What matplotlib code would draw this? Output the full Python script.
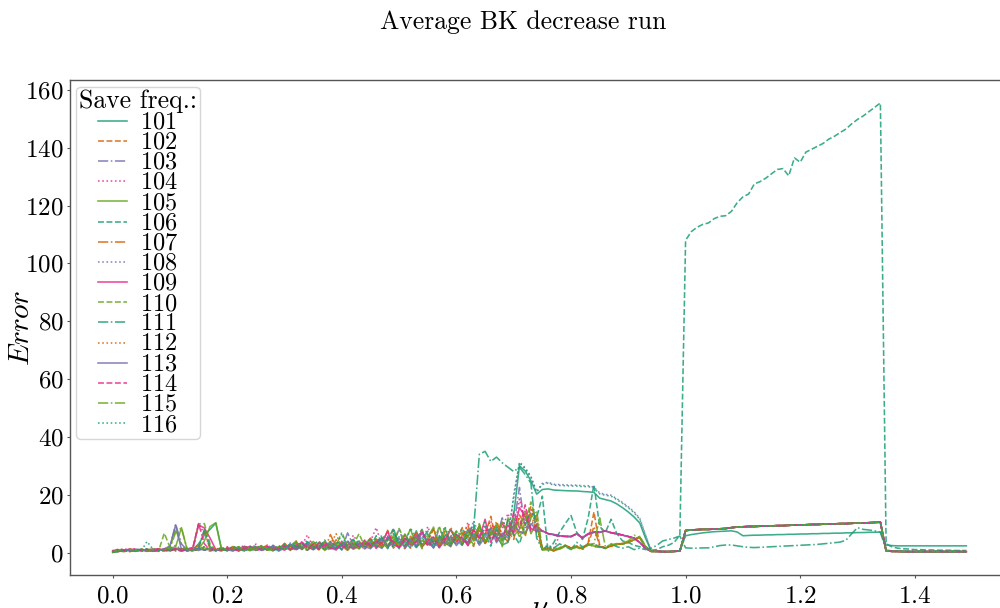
import numpy as np
import matplotlib
matplotlib.use('Agg')
import matplotlib.pyplot as plt

plt.rcParams.update({
    'font.family': 'serif',
    'font.serif': ['cmr10'],
    'mathtext.fontset': 'cm',
    'axes.unicode_minus': False,
    'axes.formatter.use_mathtext': True,
})

# x grid (nu)
nu = np.round(np.arange(150) * 0.01, 2)
labels = [str(v) for v in range(101, 117)]

# shared segments
pregap = [0.4, 0.3, 0.3, 0.4, 0.5]                       # 0.95-0.99
plateau = [7.6, 7.8, 7.9, 8.0, 8.0, 8.1, 8.2, 8.3, 8.6, 8.8,
           8.9, 9.0, 9.0, 9.1, 9.1, 9.2, 9.3, 9.3, 9.4, 9.5,
           9.5, 9.6, 9.7, 9.7, 9.8, 9.8, 9.9, 10.0, 10.0, 10.1,
           10.2, 10.2, 10.3, 10.4, 10.5]                  # 1.00-1.34
tail_low = [0.6, 0.4, 0.4, 0.3, 0.3, 0.3, 0.3, 0.3, 0.3, 0.3,
            0.3, 0.3, 0.3, 0.3, 0.3]                      # 1.35-1.49
mid_pp = [7.5, 6.5, 6.2, 5.8, 5.6, 5.5, 6.5, 5.0, 6.5, 7.0,
          7.0, 7.5, 6.8, 6.5, 6.0, 5.5, 5.0, 3.5, 1.5, 0.4]  # 0.75-0.94
upper_mid = [23.6, 24.0, 23.3, 23.2, 23.1, 23.0, 23.0, 22.8, 22.8, 22.3,
             20.3, 19.8, 19.5, 18.3, 17.0, 15.5, 13.8, 11.5, 6.0, 0.5]
common_tail = pregap + plateau + tail_low

s101 = [0.0, 0.6, 0.4, 0.9, 0.5, 1.1, 0.7, 0.8, 1.2, 0.6, 0.9, 1.5, 1.2, 0.8, 1.0,
        3.0, 6.0, 8.0, 10.2, 1.2, 0.6, 1.4, 0.8, 1.9, 0.7, 1.3, 2.1, 0.9, 1.6, 0.5,
        1.8, 2.6, 1.1, 3.2, 0.8, 2.4, 1.5, 3.6, 1.2, 2.8, 0.9, 3.9, 2.2, 1.4, 4.1,
        1.6, 3.3, 5.2, 2.1, 4.4, 1.3, 6.2, 3.0, 7.5, 2.2, 4.8, 1.5, 5.6, 3.4, 2.0,
        6.4, 2.8, 8.1, 4.0, 9.5, 3.2, 7.0, 5.5, 2.6, 3.5, 13.0, 30.0, 28.2, 24.8, 20.2,
        21.8, 22.0, 21.6, 21.5, 21.4, 21.3, 21.3, 21.1, 21.0, 20.8,
        18.8, 18.3, 17.8, 16.8, 15.5, 14.0, 12.3, 10.2, 5.0, 0.5,
        0.4, 0.3, 0.3, 0.4, 0.5,
        5.8, 6.2, 6.5, 6.8, 7.0, 7.2, 7.3, 7.4, 7.5, 7.1,
        5.8, 5.9, 6.0, 6.0, 6.1, 6.1, 6.2, 6.2, 6.3, 6.3,
        6.4, 6.4, 6.5, 6.5, 6.6, 6.6, 6.7, 6.7, 6.8, 6.8,
        6.9, 6.9, 7.0, 7.0, 7.1,
        2.6, 2.4, 2.3, 2.3, 2.3, 2.3, 2.3, 2.3, 2.3, 2.3, 2.3, 2.3, 2.3, 2.3, 2.3]

s102 = [0.4, 1.2, 0.6, 0.3, 0.9, 0.5, 1.1, 0.7, 0.4, 1.0, 0.6, 1.3, 0.8, 0.5, 1.2,
        2.5, 0.9, 0.5, 1.1, 1.6, 0.7, 2.1, 1.3, 0.5, 1.8, 0.9, 1.4, 2.6, 0.8, 1.5,
        1.1, 2.7, 0.6, 3.1, 1.8, 2.3, 0.9, 3.6, 1.5, 4.4, 2.1, 0.8, 3.7, 1.6, 2.9,
        5.0, 1.9, 3.4, 2.2, 8.0, 3.0, 1.3, 4.6, 6.8, 2.5, 3.9, 8.1, 2.0, 7.3, 4.0,
        3.3, 8.6, 4.7, 2.1, 9.0, 6.0, 12.5, 3.8, 10.5, 7.2, 4.5, 13.0, 9.6, 16.0, 11.0,
        1.0, 1.2, 0.6, 1.4, 2.4, 1.6, 2.1, 1.3, 3.4, 14.0,
        2.5, 1.4, 2.2, 2.8, 3.2, 3.6, 4.6, 5.3, 2.0, 0.4] + common_tail

s103 = [0.2, 0.8, 1.1, 0.6, 0.9, 0.4, 0.8, 1.2, 0.5, 1.0, 2.0, 9.8, 3.0, 0.8, 1.0,
        0.7, 1.5, 0.9, 0.6, 1.3, 0.8, 1.7, 1.1, 2.2, 0.6, 1.5, 1.0, 1.9, 2.5, 1.2,
        2.0, 0.8, 2.8, 1.5, 3.4, 0.9, 2.2, 4.0, 1.7, 2.9, 1.0, 6.8, 2.4, 3.3, 1.2,
        3.8, 2.6, 1.4, 5.5, 3.1, 8.2, 2.0, 4.4, 1.6, 5.9, 3.5, 2.3, 8.5, 4.1, 2.7,
        5.6, 3.2, 7.9, 4.6, 6.1, 3.4, 8.4, 5.0, 12.0, 6.3, 9.1, 22.5, 8.0, 11.5, 8.5
        ] + mid_pp + common_tail

s104 = [0.5, 0.9, 1.3, 0.7, 1.1, 0.6, 1.4, 0.8, 1.0, 0.5, 0.9, 1.2, 0.7, 1.0, 1.3,
        10.0, 6.5, 1.8, 0.8, 1.2, 2.0, 0.7, 1.6, 2.4, 1.0, 2.9, 1.3, 0.8, 2.0, 1.4,
        2.6, 1.3, 0.9, 2.4, 6.1, 1.6, 3.0, 2.1, 0.8, 3.5, 2.3, 1.4, 6.0, 2.8, 1.1,
        3.9, 8.6, 2.3, 4.5, 1.8, 3.3, 5.8, 2.4, 4.9, 2.9, 9.0, 3.6, 5.1, 2.2, 4.3,
        6.6, 3.9, 10.5, 5.4, 2.7, 7.5, 11.0, 4.9, 8.5, 13.5, 7.0, 18.5, 10.0, 15.0, 9.0,
        2.0, 2.2, 1.5, 5.8, 5.6, 5.5, 6.5, 5.0, 6.5, 7.0,
        7.0, 7.5, 6.8, 6.5, 6.0, 5.5, 5.0, 3.5, 1.5, 0.4] + common_tail

s105 = [0.1, 0.4, 0.7, 0.9, 0.5, 1.0, 0.6, 0.8, 1.1, 0.7, 1.5, 2.0, 8.6, 0.9, 0.6,
        1.2, 4.0, 9.0, 10.3, 1.0, 1.4, 0.6, 1.9, 1.1, 0.8, 1.6, 2.2, 1.0, 0.7, 1.8,
        1.4, 2.3, 3.9, 1.0, 2.6, 1.7, 3.5, 0.7, 2.0, 1.3, 3.0, 2.3, 4.6, 1.2, 3.3,
        2.1, 4.7, 3.1, 1.6, 5.9, 2.4, 4.2, 8.1, 1.8, 4.3, 2.6, 5.1, 3.5, 8.5, 2.7,
        4.8, 7.1, 2.4, 5.2, 8.8, 3.6, 6.3, 9.9, 2.0, 12.0, 5.8, 8.0, 14.0, 6.5, 10.0,
        1.3, 1.6, 0.7, 1.2, 2.6, 1.4, 1.9, 1.2, 3.1, 2.2,
        2.0, 1.6, 2.4, 3.1, 2.9, 3.5, 4.3, 5.4, 2.1, 0.4] + common_tail

s106 = [0.1, 0.3, 0.9, 0.5, 0.7, 1.2, 0.4, 0.8, 1.0, 0.6, 1.3, 0.9, 0.5, 1.1, 0.7,
        1.4, 0.8, 1.8, 0.9, 0.6, 1.6, 1.0, 2.0, 0.7, 1.4, 0.9, 2.3, 1.2, 0.6, 1.7,
        2.4, 1.0, 3.5, 1.7, 0.8, 2.9, 4.0, 1.4, 2.2, 3.4, 1.0, 2.7, 4.4, 1.9, 3.2,
        2.0, 5.8, 1.7, 4.2, 8.4, 2.6, 3.8, 1.4, 5.0, 8.0, 2.9, 4.5, 1.8, 6.2, 3.6,
        7.4, 2.7, 5.9, 9.8, 3.4, 6.5, 2.2, 8.8, 4.3, 11.2, 6.0, 3.0, 9.4, 14.0, 12.0,
        19.5, 0.3, 3.5, 7.0, 10.0, 12.8, 7.0, 4.5, 12.0, 23.5,
        9.0, 7.0, 11.5, 6.5, 4.0, 3.5, 2.5, 2.0, 1.5, 0.8,
        1.0, 2.0, 2.5, 3.5, 6.0,
        108.0, 111.0, 112.5, 113.5, 114.0, 115.5, 116.3, 116.5, 118.0, 121.0,
        123.0, 124.0, 127.5, 128.3, 129.5, 131.0, 132.5, 132.8, 130.3, 136.5,
        135.0, 138.5, 139.5, 140.5, 141.5, 143.0, 144.0, 145.3, 146.5, 148.3,
        149.8, 151.0, 152.5, 154.0, 155.5,
        3.0, 2.0, 1.5, 1.3, 1.2, 1.0, 1.0, 0.9, 0.9, 0.8, 0.8, 0.8, 0.7, 0.7, 0.7]

s107 = [0.3, 0.6, 1.0, 0.8, 0.4, 1.2, 0.9, 0.5, 0.8, 1.1, 0.7, 1.0, 1.4, 0.6, 0.9,
        1.5, 7.5, 1.0, 0.5, 1.2, 0.9, 1.4, 0.6, 1.8, 1.2, 2.0, 0.7, 1.3, 1.9, 1.0,
        3.2, 1.2, 2.2, 1.5, 0.8, 3.1, 2.5, 1.0, 6.2, 1.9, 2.7, 3.4, 1.1, 2.2, 3.8,
        1.7, 4.3, 2.8, 7.7, 1.5, 3.7, 2.2, 5.6, 3.4, 1.9, 4.9, 8.1, 2.8, 3.8, 5.5,
        2.6, 6.0, 9.3, 4.4, 7.6, 3.1, 5.2, 10.8, 6.0, 3.7, 8.2, 11.8, 5.5, 13.5, 7.0,
        0.9, 1.4, 0.6, 1.6, 2.3, 1.5, 2.2, 1.4, 2.9, 9.0,
        2.3, 1.5, 2.3, 2.9, 3.0, 3.7, 4.5, 5.2, 2.0, 0.4] + common_tail

s108 = [0.6, 0.8, 0.5, 1.1, 0.9, 0.7, 1.2, 0.6, 1.0, 0.8, 1.4, 2.5, 1.1, 0.7, 0.9,
        1.3, 1.8, 1.1, 0.8, 1.1, 1.7, 0.9, 1.4, 2.0, 1.2, 0.7, 1.6, 2.2, 1.3, 0.9,
        1.6, 3.3, 2.0, 1.2, 2.7, 3.9, 1.5, 2.4, 1.1, 3.2, 2.6, 4.1, 1.7, 2.3, 3.5,
        2.4, 1.8, 4.4, 6.0, 2.9, 3.6, 5.1, 1.9, 4.0, 6.9, 3.3, 2.1, 5.5, 4.4, 6.1,
        3.0, 7.0, 4.9, 11.0, 5.8, 3.3, 8.9, 6.1, 4.0, 6.5, 19.0, 31.3, 29.3, 26.3, 21.0,
        23.9, 24.3, 23.6, 23.5, 23.4, 23.3, 23.3, 23.1, 23.1, 22.6,
        20.6, 20.1, 19.8, 18.6, 17.3, 15.8, 14.1, 11.8, 6.2, 0.5] + common_tail

s109 = [0.6, 0.3, 0.8, 1.2, 0.7, 0.9, 0.5, 1.1, 1.3, 0.8, 0.6, 1.1, 0.9, 1.2, 1.8,
        9.5, 8.5, 5.0, 1.0, 0.8, 1.5, 1.0, 0.6, 1.7, 2.1, 1.2, 0.9, 2.0, 1.1, 1.6,
        0.8, 2.2, 1.4, 3.7, 1.9, 1.1, 3.3, 2.6, 1.6, 0.9, 3.9, 2.0, 1.5, 3.1, 2.4,
        4.6, 1.4, 3.6, 7.3, 2.6, 1.9, 4.8, 3.2, 6.1, 2.1, 3.9, 5.4, 1.6, 4.2, 8.0,
        3.8, 5.3, 2.4, 8.0, 4.9, 11.5, 3.5, 7.8, 5.5, 9.5, 6.8, 15.5, 12.5, 8.3, 7.4
        ] + mid_pp + common_tail

s110 = [0.2, 0.5, 0.3, 0.8, 1.0, 0.6, 1.1, 0.9, 0.4, 6.7, 1.8, 7.9, 2.5, 0.7, 1.0,
        9.9, 10.0, 3.0, 0.9, 0.6, 1.3, 1.8, 0.9, 1.4, 0.7, 2.3, 1.6, 0.8, 1.3, 2.1,
        1.9, 0.7, 3.2, 2.4, 1.2, 2.7, 1.3, 3.9, 2.1, 1.6, 3.8, 0.8, 2.6, 6.5, 2.0,
        3.0, 2.2, 5.2, 1.8, 3.5, 8.3, 4.0, 2.5, 5.7, 1.3, 6.3, 3.0, 9.2, 2.4, 4.6,
        7.4, 3.1, 5.8, 2.6, 10.0, 4.0, 6.2, 9.2, 4.2, 7.1, 12.0, 5.0, 10.5, 17.5, 11.0,
        0.8, 1.3, 0.5, 1.7, 2.2, 1.4, 2.3, 1.5, 2.8, 2.0,
        1.8, 1.4, 2.6, 3.0, 2.9, 3.4, 4.4, 5.6, 2.2, 0.4] + common_tail

s111 = [0.3, 0.7, 0.5, 1.0, 0.6, 0.8, 1.1, 0.4, 0.9, 1.2, 0.7, 1.0, 0.6, 1.4, 0.9,
        1.6, 8.0, 2.0, 0.8, 1.3, 0.6, 1.9, 1.0, 1.5, 2.2, 0.8, 1.7, 1.1, 2.4, 0.7,
        3.0, 1.5, 2.3, 0.9, 3.7, 2.0, 1.2, 4.3, 2.6, 1.0, 3.3, 1.8, 2.5, 4.0, 1.5,
        3.5, 2.2, 5.0, 1.3, 6.6, 3.9, 2.4, 5.3, 1.7, 4.6, 7.4, 3.2, 2.0, 5.8, 8.0,
        4.2, 2.5, 6.8, 8.0, 34.0, 35.0, 31.5, 33.0, 31.0, 29.5, 28.0, 29.5, 27.0, 24.0, 5.0,
        1.0, 2.5, 1.5, 3.0, 2.0, 1.0, 3.5, 2.0, 2.5, 3.0,
        2.0, 1.5, 3.0, 2.0, 1.5, 2.0, 1.0, 1.5, 1.0, 1.5,
        2.5, 4.0, 4.5, 5.0, 5.7,
        1.6, 1.5, 1.5, 1.6, 1.6, 2.0, 2.4, 2.6, 2.6, 2.3,
        2.0, 1.8, 1.7, 1.8, 1.9, 2.0, 2.1, 2.2, 2.3, 2.4,
        2.5, 2.6, 2.7, 2.8, 3.0, 3.2, 3.4, 3.6, 4.3, 6.5,
        8.6, 8.0, 7.8, 7.5, 7.0,
        0.8, 0.6, 0.5, 0.5, 0.5, 0.5, 0.5, 0.5, 0.5, 0.5, 0.5, 0.5, 0.5, 0.5, 0.5]

s112 = [0.7, 0.9, 0.4, 1.3, 0.8, 1.0, 0.6, 0.9, 1.2, 0.5, 1.0, 0.8, 1.2, 0.9, 0.6,
        1.0, 2.0, 0.6, 1.3, 0.9, 1.8, 1.1, 0.5, 2.0, 1.4, 0.9, 2.5, 1.3, 0.6, 1.9,
        2.6, 1.7, 4.0, 1.3, 2.6, 0.9, 3.5, 1.8, 2.9, 6.5, 1.4, 3.1, 2.0, 3.7, 1.6,
        2.9, 4.8, 1.8, 3.2, 2.1, 5.1, 3.8, 1.5, 4.3, 8.0, 2.4, 3.7, 5.9, 2.9, 8.8,
        4.0, 2.8, 6.9, 8.0, 3.9, 6.3, 9.4, 4.0, 7.0, 3.6, 10.5, 6.2, 14.5, 9.0, 12.8,
        1.1, 1.7, 0.8, 1.3, 2.5, 1.7, 2.0, 1.4, 3.2, 2.4,
        2.2, 1.7, 2.1, 2.7, 3.1, 3.8, 4.7, 5.1, 1.9, 0.4] + common_tail

s113 = [0.4, 0.7, 0.9, 0.5, 1.2, 0.8, 0.6, 1.0, 0.7, 1.3, 2.2, 9.6, 1.0, 0.6, 0.9,
        1.3, 0.8, 1.2, 0.7, 1.4, 1.0, 0.5, 1.5, 0.9, 1.3, 1.9, 0.7, 1.4, 2.2, 0.8,
        1.5, 2.9, 1.0, 1.9, 3.0, 1.2, 2.5, 1.5, 3.1, 1.0, 2.4, 3.6, 1.4, 2.9, 2.1,
        1.3, 3.6, 4.3, 2.2, 3.0, 4.9, 1.6, 3.7, 2.4, 7.0, 3.3, 1.8, 4.6, 3.1, 5.4,
        2.4, 4.9, 3.6, 6.4, 2.5, 5.4, 8.5, 3.4, 6.7, 5.0, 9.5, 7.2, 6.8, 10.0, 7.8
        ] + mid_pp + common_tail

s114 = [0.5, 1.0, 0.6, 0.9, 1.3, 0.7, 1.0, 0.5, 0.9, 1.1, 0.8, 1.3, 0.6, 0.9, 1.5,
        10.0, 3.0, 0.9, 1.5, 0.8, 1.1, 1.6, 0.8, 1.3, 1.8, 0.6, 1.5, 2.0, 1.0, 1.3,
        2.2, 1.0, 2.6, 3.3, 1.4, 2.8, 1.1, 2.4, 3.8, 1.5, 2.5, 1.2, 3.3, 2.0, 4.3,
        2.5, 3.9, 2.0, 5.2, 3.7, 1.7, 4.7, 2.8, 3.6, 7.6, 2.1, 4.2, 3.3, 5.0, 2.3,
        6.1, 4.5, 3.0, 7.7, 5.1, 9.0, 4.8, 6.6, 10.2, 5.6, 14.0, 8.5, 16.5, 7.5, 9.5,
        7.3, 6.6, 6.0, 5.7, 5.5, 5.6, 6.4, 5.2, 6.3, 7.1,
        7.1, 7.4, 6.9, 6.4, 6.1, 5.6, 4.9, 3.4, 1.4, 0.4] + common_tail

s115 = [0.3, 0.8, 0.5, 1.1, 0.7, 0.9, 0.4, 1.2, 0.8, 1.0, 1.6, 7.0, 8.5, 1.2, 0.7,
        1.1, 1.6, 1.0, 0.8, 1.7, 0.9, 1.2, 2.0, 0.8, 1.5, 1.0, 2.1, 1.4, 0.9, 2.4,
        1.2, 2.0, 3.4, 2.2, 1.6, 3.8, 2.0, 1.3, 3.0, 2.5, 7.0, 1.9, 2.8, 1.5, 3.6,
        4.2, 2.7, 1.9, 4.0, 5.2, 2.3, 6.4, 3.0, 4.8, 2.2, 5.2, 8.8, 3.1, 4.4, 2.8,
        5.9, 3.5, 7.0, 4.6, 9.0, 3.7, 7.4, 5.6, 11.0, 6.0, 8.2, 10.5, 6.4, 12.0, 14.5,
        1.2, 0.8, 1.6, 1.2, 2.0, 1.2, 1.8, 1.0, 2.7, 3.0,
        12.0, 2.0, 2.8, 2.6, 3.2, 4.0, 6.0, 5.0, 2.0, 0.4] + common_tail

s116 = [0.2, 0.5, 0.8, 0.4, 1.0, 0.6, 3.8, 1.2, 0.7, 0.9, 1.1, 0.5, 1.3, 0.8, 0.6,
        1.2, 2.0, 1.0, 0.7, 1.5, 0.9, 2.2, 1.1, 0.6, 1.8, 2.4, 0.8, 1.7, 1.0, 2.3,
        0.9, 3.1, 1.6, 2.5, 4.2, 1.3, 2.9, 0.7, 3.8, 2.0, 6.5, 1.1, 3.0, 2.6, 1.8,
        4.9, 2.5, 6.1, 3.7, 1.9, 5.5, 2.8, 8.5, 4.1, 3.0, 6.6, 2.4, 4.7, 9.0, 3.1,
        5.0, 8.4, 3.6, 6.9, 2.9, 10.5, 4.4, 7.7, 5.2, 4.0, 20.0, 31.0, 29.0, 26.0, 21.0
        ] + upper_mid + common_tail

series = [s101, s102, s103, s104, s105, s106, s107, s108,
          s109, s110, s111, s112, s113, s114, s115, s116]
for lab, s in zip(labels, series):
    assert len(s) == len(nu), f"series {lab} has {len(s)} values"

colors = ['#1b9e77', '#d95f02', '#7570b3', '#e7298a', '#66a61e']
styles = ['-', '--', '-.', ':']

fig = plt.figure(figsize=(10, 6.08), dpi=100)
ax = fig.add_axes([0.07, 0.0543, 0.939, 0.8133])

for i, (lab, s) in enumerate(zip(labels, series)):
    ax.plot(nu, s, color=colors[i % 5], linestyle=styles[i % 4],
            lw=1.15, alpha=0.85, label=f'${lab}$')

for side in ['left', 'top', 'bottom', 'right']:
    ax.spines[side].set_color('#555555')
    ax.spines[side].set_linewidth(1.0)

ax.set_xticks([0.0, 0.2, 0.4, 0.6, 0.8, 1.0, 1.2, 1.4])
ax.set_yticks([0, 20, 40, 60, 80, 100, 120, 140, 160])
ax.tick_params(axis='both', labelsize=18, length=2.5, width=0.8,
               color='#555555', pad=2)
ax.tick_params(axis='x', pad=5)
ax.set_ylabel(r'$Error$', fontsize=21)
ax.yaxis.set_label_coords(-0.037, 0.5)
ax.set_xlabel(r'$\nu$', fontsize=21, labelpad=-9)

leg = ax.legend(title='Save freq.:', loc='upper left', fontsize=17.5,
                title_fontsize=18.5, handlelength=1.2, handleheight=0.5,
                handletextpad=0.5, labelspacing=-0.08, borderpad=0.12,
                borderaxespad=0.25, framealpha=0.8, edgecolor='#cccccc')

fig.text(0.523, 1 - 22 / 608, 'Average BK decrease run', ha='center',
         va='center', fontsize=18.5)

fig.savefig('out.png', dpi=100)
